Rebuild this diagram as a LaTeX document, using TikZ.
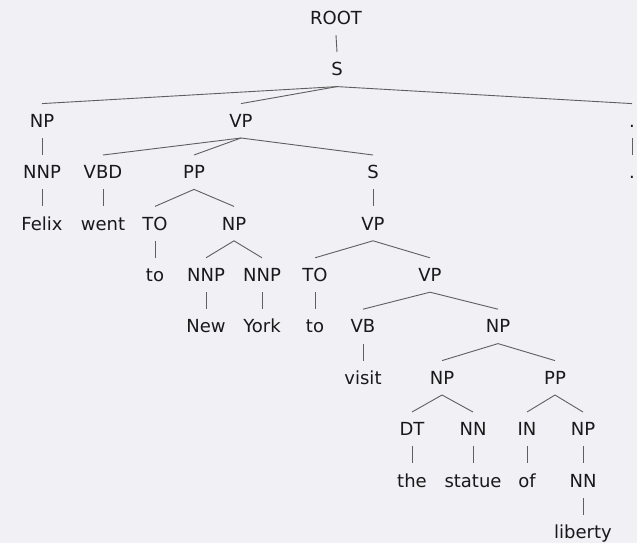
\documentclass[tikz,border=0pt]{standalone}
\usepackage{fontspec}
\setmainfont{DejaVu Sans}
\definecolor{bgcol}{RGB}{240,240,245}
\definecolor{linecol}{RGB}{95,95,95}

\begin{document}
\begin{tikzpicture}[x=1pt,y=-1pt,
                    tag node/.style={inner sep=0pt,text height=13pt,text depth=0pt,
                      minimum height=34pt,text=black!90,font=\fontsize{18}{20}\selectfont},
                    every edge/.style={draw=linecol,line width=0.9pt}]
  \fill[bgcol] (0,0) rectangle (637,543);
  \useasboundingbox (0,0) rectangle (637,543);
  % levels of the parse tree
  \node[tag node] (root) at (336,18) {ROOT};
  \node[tag node] (s1) at (337,69.4) {S};
  \node[tag node] (np1) at (42,120.8) {NP};
  \node[tag node] (vp1) at (241,120.8) {VP};
  \node[tag node] (dot1) at (632,120.8) {.};
  \node[tag node] (nnp1) at (42,172.2) {NNP};
  \node[tag node] (vbd) at (103,172.2) {VBD};
  \node[tag node] (pp1) at (194,172.2) {PP};
  \node[tag node] (s2) at (373,172.2) {S};
  \node[tag node] (dot2) at (632,172.2) {.};
  \node[tag node] (felix) at (42,223.6) {Felix};
  \node[tag node] (went) at (103,223.6) {went};
  \node[tag node] (to1) at (155,223.6) {TO};
  \node[tag node] (np2) at (234,223.6) {NP};
  \node[tag node] (vp2) at (373,223.6) {VP};
  \node[tag node] (w1) at (155,275) {to};
  \node[tag node] (nnp2) at (206,275) {NNP};
  \node[tag node] (nnp3) at (262,275) {NNP};
  \node[tag node] (to2) at (315,275) {TO};
  \node[tag node] (vp3) at (430,275) {VP};
  \node[tag node] (new) at (206,326.4) {New};
  \node[tag node] (york) at (262,326.4) {York};
  \node[tag node] (w2) at (315,326.4) {to};
  \node[tag node] (vb) at (363,326.4) {VB};
  \node[tag node] (np3) at (498,326.4) {NP};
  \node[tag node] (visit) at (363,377.8) {visit};
  \node[tag node] (np4) at (442,377.8) {NP};
  \node[tag node] (pp2) at (555,377.8) {PP};
  \node[tag node] (dt) at (412,429.2) {DT};
  \node[tag node] (nn1) at (473,429.2) {NN};
  \node[tag node] (in) at (527,429.2) {IN};
  \node[tag node] (np5) at (583,429.2) {NP};
  \node[tag node] (the) at (412,480.6) {the};
  \node[tag node] (statue) at (473,480.6) {statue};
  \node[tag node] (of) at (527,480.6) {of};
  \node[tag node] (nn2) at (583,480.6) {NN};
  \node[tag node] (liberty) at (583,532) {liberty};
  \path
    (root.south) edge (s1.north)
    (s1.south) edge (np1.north)
               edge (vp1.north)
               edge (dot1.north)
    (np1.south) edge (nnp1.north)
    (dot1.south) edge (dot2.north)
    (vp1.south) edge (vbd.north)
                edge (pp1.north)
                edge (s2.north)
    (nnp1.south) edge (felix.north)
    (vbd.south) edge (went.north)
    (pp1.south) edge (to1.north)
                edge (np2.north)
    (s2.south) edge (vp2.north)
    (to1.south) edge (w1.north)
    (np2.south) edge (nnp2.north)
                edge (nnp3.north)
    (vp2.south) edge (to2.north)
                edge (vp3.north)
    (nnp2.south) edge (new.north)
    (nnp3.south) edge (york.north)
    (to2.south) edge (w2.north)
    (vp3.south) edge (vb.north)
                edge (np3.north)
    (vb.south) edge (visit.north)
    (np3.south) edge (np4.north)
                edge (pp2.north)
    (np4.south) edge (dt.north)
                edge (nn1.north)
    (pp2.south) edge (in.north)
                edge (np5.north)
    (dt.south) edge (the.north)
    (nn1.south) edge (statue.north)
    (in.south) edge (of.north)
    (np5.south) edge (nn2.north)
    (nn2.south) edge (liberty.north);
\end{tikzpicture}
\end{document}
